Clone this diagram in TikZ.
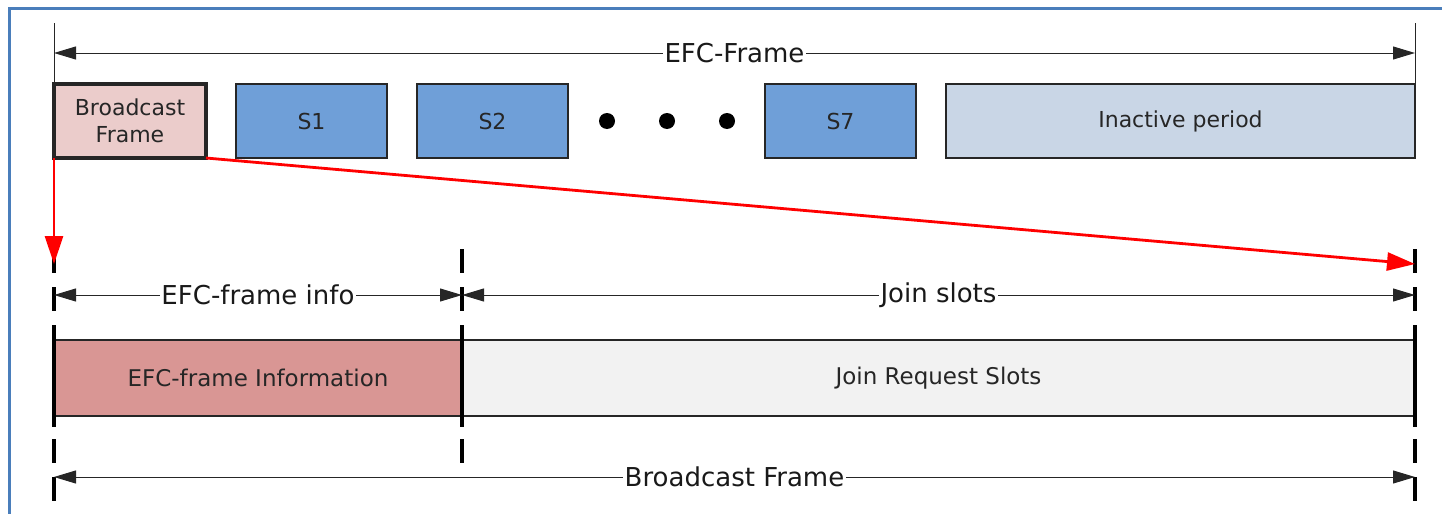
\documentclass[tikz,border=0pt]{standalone}
\usepackage{fontspec}
\setmainfont{DejaVu Sans}
\usetikzlibrary{arrows.meta}
\definecolor{bfpink}{HTML}{EBCCCB}
\definecolor{sblue}{HTML}{6F9FD8}
\definecolor{inact}{HTML}{C9D6E6}
\definecolor{infored}{HTML}{D99694}
\definecolor{joingray}{HTML}{F2F2F2}
\definecolor{frameblue}{HTML}{4A7EBB}
\definecolor{arrred}{HTML}{FF0000}
\begin{document}
\begin{tikzpicture}[x=0.5pt,y=-0.5pt,
  slot/.style={draw=black!85, line width=0.75pt, minimum height=37pt, inner sep=0pt,
    font=\fontsize{11}{13.5}\selectfont, text=black!85, align=center},
  lowbox/.style={draw=black!85, line width=0.75pt, minimum height=38pt, inner sep=0pt,
    font=\fontsize{11.5}{14}\selectfont, text=black!85},
  dim/.style={line width=0.5pt, draw=black!85,
    {Triangle[length=11pt,width=6.5pt]}-{Triangle[length=11pt,width=6.5pt]}},
  lbl/.style={fill=white, inner sep=0.8pt, font=\fontsize{13}{15}\selectfont, text=black!90},
  tick/.style={line width=0.5pt, draw=black!85},
  dline/.style={line width=1.6pt, draw=black, dash pattern=on 12pt off 7pt},
  sline/.style={line width=1.6pt, draw=black},
  redarrow/.style={line width=1.4pt, draw=arrred, -{Triangle[length=14pt,width=9pt]}, fill=arrred},
  dot/.style={circle, fill=black, inner sep=0pt, minimum size=8pt}
]
\useasboundingbox (0,0) rectangle (1442,514);
\draw[frameblue, line width=1.5pt] (9.5,514) -- (9.5,8) -- (1442,8);

% top frame ticks
\coordinate (tl1) at (54,23); \coordinate (tl2) at (54,84);
\coordinate (tr1) at (1415,23); \coordinate (tr2) at (1415,84);
\draw[tick] (tl1) -- (tl2);
\draw[tick] (tr1) -- (tr2);
\coordinate (efl) at (54,53); \coordinate (efr) at (1415,53);
\draw[dim] (efl) -- node[lbl] (eflbl) {EFC-Frame} (efr);

% slots
\node[slot, fill=bfpink, line width=2pt, outer sep=0pt, minimum width=76pt] (bf) at (130,121) {Broadcast\\Frame};
\node[slot, fill=sblue, minimum width=75.5pt] (s1) at (311.5,121) {S1};
\node[slot, fill=sblue, minimum width=75.5pt] (s2) at (492.5,121) {S2};
\node[dot] (d1) at (607,121) {};
\node[dot] (d2) at (667,121) {};
\node[dot] (d3) at (727,121) {};
\node[slot, fill=sblue, minimum width=75.5pt] (s7) at (840.5,121) {S7};
\node[slot, fill=inact, minimum width=234.5pt] (ip) at (1180.5,121) {Inactive period};

% dashed guide lines
\coordinate (gL1) at (54,249); \coordinate (gL2) at (54,503);
\coordinate (gM1) at (462,249); \coordinate (gM2) at (462,463);
\coordinate (gR1) at (1415,249); \coordinate (gR2) at (1415,503);
\draw[dline] (gL1) -- (gL2);
\draw[dline] (gM1) -- (gM2);
\draw[dline] (gR1) -- (gR2);

% lower boxes
\node[lowbox, fill=infored, minimum width=204pt] (info) at (258,378) {EFC-frame Information};
\node[lowbox, fill=joingray, minimum width=476.5pt] (join) at (938.5,378) {Join Request Slots};
\coordinate (bL1) at (54,326); \coordinate (bL2) at (54,427);
\coordinate (bM1) at (462,326); \coordinate (bM2) at (462,427);
\coordinate (bR1) at (1415,326); \coordinate (bR2) at (1415,427);
\draw[sline] (bL1) -- (bL2);
\draw[sline] (bM1) -- (bM2);
\draw[sline] (bR1) -- (bR2);

% red arrows
\coordinate (rL) at (54,264);
\coordinate (rR) at (1415,264);
\draw[redarrow] (bf.south west) -- (rL);
\draw[redarrow] (bf.south east) -- (rR);

% dimension arrows
\coordinate (a1) at (54,295); \coordinate (a2) at (462,295); \coordinate (a3) at (1415,295);
\draw[dim] (a1) -- node[lbl] (infolbl) {EFC-frame info} (a2);
\draw[dim] (a2) -- node[lbl] (joinlbl) {Join slots} (a3);
\coordinate (c1) at (54,477); \coordinate (c2) at (1415,477);
\draw[dim] (c1) -- node[lbl] (bflbl) {Broadcast Frame} (c2);
\end{tikzpicture}
\end{document}
